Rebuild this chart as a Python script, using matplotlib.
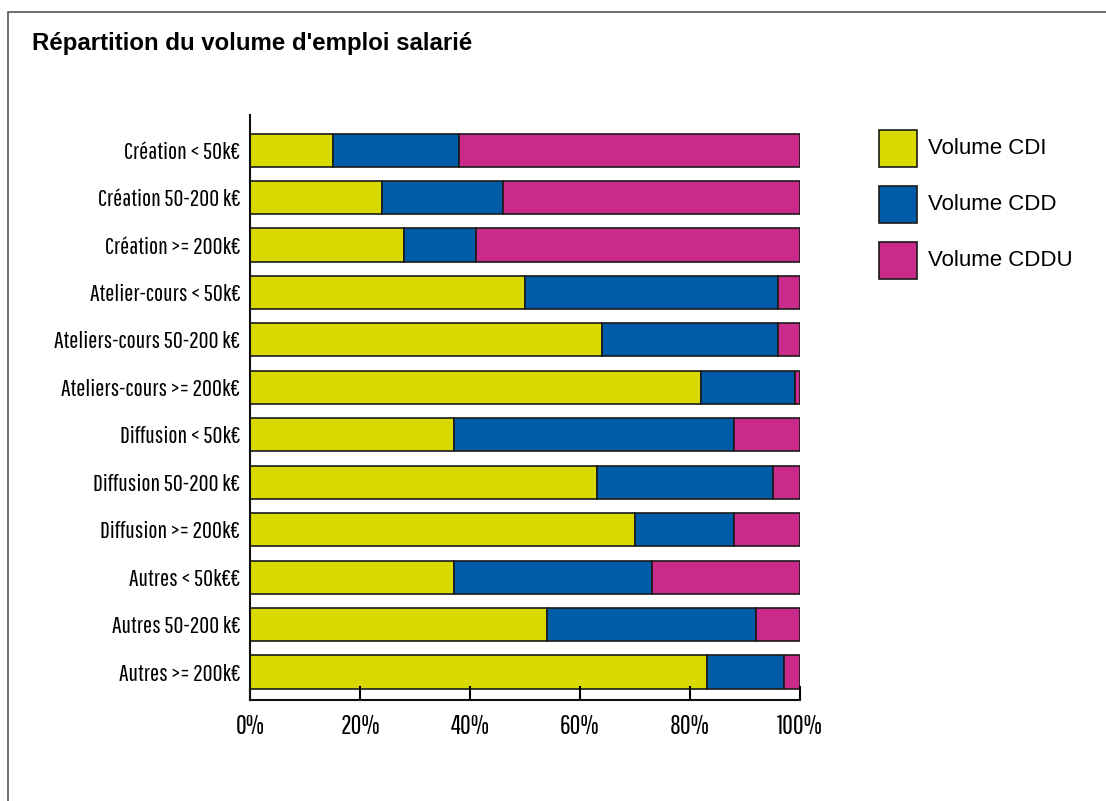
import matplotlib
matplotlib.use("Agg")
import matplotlib.pyplot as plt
from matplotlib.patches import Rectangle
from matplotlib import font_manager

categories = ["Création < 50k€", "Création 50-200 k€", "Création >= 200k€",
              "Atelier-cours < 50k€", "Ateliers-cours 50-200 k€", "Ateliers-cours >= 200k€",
              "Diffusion < 50k€", "Diffusion 50-200 k€", "Diffusion >= 200k€",
              "Autres < 50k€€", "Autres 50-200 k€", "Autres >= 200k€"]
cdi = [15, 24, 28, 50, 64, 82, 37, 63, 70, 37, 54, 83]
cdd = [23, 22, 13, 46, 32, 17, 51, 32, 18, 36, 38, 14]
cddu = [62, 54, 59, 4, 4, 1, 12, 5, 12, 27, 8, 3]
series_names = ["Volume CDI", "Volume CDD", "Volume CDDU"]
colors = ["#d9d900", "#005ca6", "#c92a8b"]
xticks = [0, 20, 40, 60, 80, 100]
xticklabels = ["0%", "20%", "40%", "60%", "80%", "100%"]

names = {f.name for f in font_manager.fontManager.ttflist}
narrow = [f for f in ["Pathway Gothic One", "Archivo Narrow", "Liberation Sans"] if f in names]
narrow = narrow + ["DejaVu Sans"]

W, H = 1106, 801
fig = plt.figure(figsize=(W / 100, H / 100), dpi=100)
ax = fig.add_axes([250 / W, (H - 700) / H, 550 / W, (700 - 115) / H])

ypos = list(range(len(categories)))
left = [0] * len(categories)
for vals, col, name in zip([cdi, cdd, cddu], colors, series_names):
    ax.barh(ypos, vals, left=left, height=0.7, color=col, edgecolor="#1a1a1a",
            linewidth=1.2, label=name)
    left = [a + b for a, b in zip(left, vals)]

ax.set_xlim(0, 100)
ax.set_ylim(len(categories) - 1 + 0.59, -0.74)
ax.set_yticks(ypos)
ax.set_yticklabels(categories, fontfamily=narrow, fontsize=17.5)
ax.set_xticks(xticks)
ax.set_xticklabels(xticklabels, fontfamily=narrow, fontsize=19)
ax.tick_params(axis="y", length=0, pad=7)
ax.tick_params(axis="x", direction="in", length=10, width=1.5, pad=10)
for s in ["top", "right"]:
    ax.spines[s].set_visible(False)
for s in ["left", "bottom"]:
    ax.spines[s].set_linewidth(1.5)
    ax.spines[s].set_color("#111111")

# figure frame
fig.patches.append(Rectangle((8 / W, -0.1), 1.2, (H - 12) / H + 0.1,
                             transform=fig.transFigure, fill=False,
                             edgecolor="#555555", linewidth=1.2))

fig.text(32 / W, 1 - 50 / H, "Répartition du volume d'emploi salarié",
         fontfamily="Liberation Sans", fontweight="bold", fontsize=17.3,
         va="baseline", ha="left")

# legend
for i, (name, col) in enumerate(zip(series_names, colors)):
    yc = 148.5 + i * 56
    fig.patches.append(Rectangle((879 / W, 1 - (yc + 18.5) / H), 38 / W, 37 / H,
                                 transform=fig.transFigure, facecolor=col,
                                 edgecolor="#1a1a1a", linewidth=1.2))
    fig.text(928 / W, 1 - yc / H, name, fontfamily="Liberation Sans",
             fontsize=16, va="center", ha="left")

fig.savefig("out.png", dpi=100)
